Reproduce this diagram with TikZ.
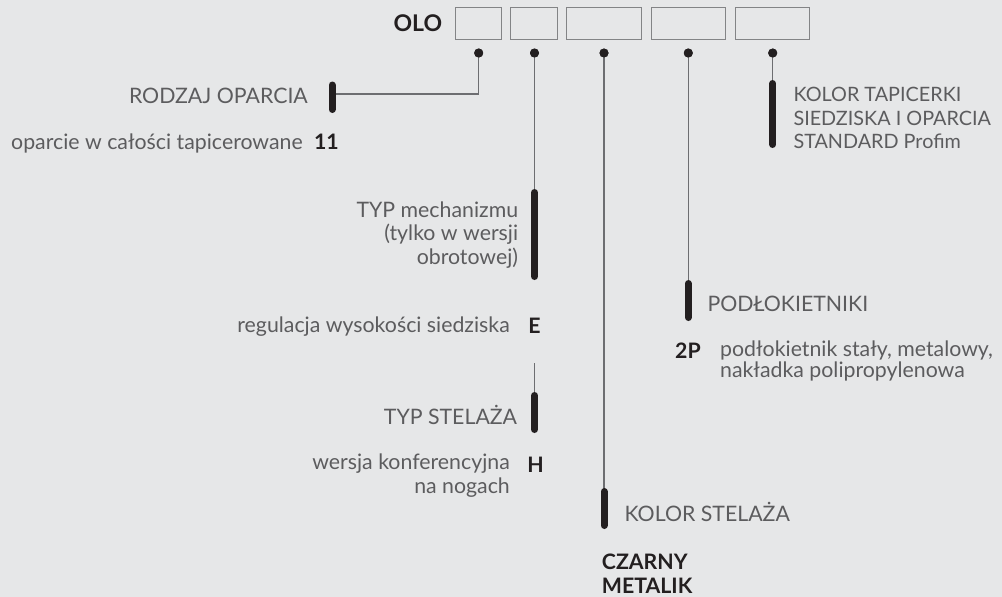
\documentclass[tikz,border=0pt]{standalone}
\usepackage{fontspec}
\setmainfont{Lato}
\usetikzlibrary{positioning}
\definecolor{bg}{HTML}{E6E7E8}
\definecolor{txt}{HTML}{5C5C5E}
\definecolor{ink}{HTML}{231F20}
\definecolor{rule}{HTML}{6D6E71}
\tikzset{
 box/.style={draw=rule!85, line width=0.9pt, minimum width=#1, minimum height=32, inner sep=0},
 pin/.style={circle, fill=ink, inner sep=0, minimum size=9},
 lead/.style={draw=rule, line width=1.1pt},
 bar/.style={draw=ink, line width=7pt, line cap=round},
 lab/.style={font=\fontsize{21.3}{23.5}\selectfont, text=txt, inner sep=0},
 code/.style={font=\fontsize{21.3}{24}\selectfont\bfseries, text=ink, inner sep=0}
}

\begin{document}
\begin{tikzpicture}[x=1pt, y=-1pt]
 \fill[bg] (0,0) rectangle (1002,597);
 \useasboundingbox (0,0) rectangle (1002,597);
 % code boxes
 \node (b1) [box=46] at (478.8,23.3) {};
 \node (b2) [box=47] at (533.5,23.3) {};
 \node (b3) [box=75] at (603.5,23.3) {};
 \node (b4) [box=74] at (688,23.3) {};
 \node (b5) [box=74] at (772,23.3) {};
 \node (olo) [left=13 of b1, inner sep=0, text=ink, font=\fontsize{23}{26}\selectfont\bfseries] {OLO};
 % pins under the boxes
 \node (p1) [pin] at (478.7,53) {};
 \node (p2) [pin] at (534.5,53) {};
 \node (p3) [pin] at (604,53) {};
 \node (p4) [pin] at (688.3,53) {};
 \node (p5) [pin] at (772.7,53) {};
 % bar ends
 \coordinate (k1t) at (332,85);   \coordinate (k1b) at (332,109.5);
 \coordinate (k1m) at (332,94);
 \coordinate (k2t) at (534.5,192.5); \coordinate (k2b) at (534.5,276.5);
 \coordinate (k6t) at (534.5,395.5); \coordinate (k6b) at (534.5,429.5);
 \coordinate (k6s) at (534.5,363);
 \coordinate (k3t) at (604,491.5);   \coordinate (k3b) at (604,525.5);
 \coordinate (k4t) at (688.3,283.5); \coordinate (k4b) at (688.3,317.5);
 \coordinate (k5t) at (772.7,83.5);  \coordinate (k5b) at (772.7,144.5);
 % leads
 \draw[lead] (p1.center) |- (k1m);
 \draw[lead] (p2.center) -- (k2t);
 \draw[lead] (k6s) -- (k6t);
 \draw[lead] (p3.center) -- (k3t);
 \draw[lead] (p4.center) -- (k4t);
 \draw[lead] (p5.center) -- (k5t);
 \foreach \n in {1,...,5} \node[pin] at (p\n) {};
 \foreach \k in {1,...,6} \draw[bar] (k\k t) -- (k\k b);
 % labels
 \node (rodzaj) [lab, anchor=east] at (308,95.5) {RODZAJ OPARCIA};
 \node (oparcie) [lab, anchor=west] at (11,143) {oparcie w całości tapicerowane};
 \node (c11) [code, base right=11 of oparcie] {11};
 \node (kolor) [lab, anchor=west, align=left, font=\fontsize{19.8}{23.5}\selectfont] at (793.3,118) {KOLOR TAPICERKI\\SIEDZISKA I OPARCIA\\STANDARD Profim};
 \node (mech) [lab, anchor=east, align=right] at (518.3,235) {TYP mechanizmu\\(tylko w wersji\\obrotowej)};
 \node (e) [code] at (534.5,326) {E};
 \node (reg) [lab, anchor=east] at (510,326.5) {regulacja wysokości siedziska};
 \node (stelaz) [lab, anchor=east] at (517.3,415) {TYP STELAŻA};
 \node (h) [code] at (535.5,465) {H};
 \node (wersja) [lab, anchor=east, align=right] at (510,475.5) {wersja konferencyjna\\na nogach};
 \node (kstel) [lab, anchor=west] at (624.3,512) {KOLOR STELAŻA};
 \node (czarny) [code, anchor=west, align=left] at (601.7,573.7) {CZARNY\\METALIK};
 \node (podl) [lab, anchor=west] at (707.3,304.3) {PODŁOKIETNIKI};
 \node (c2p) [code, anchor=west] at (675,350.7) {2P};
 \node (podlt) [lab, anchor=west, align=left, font=\fontsize{21.3}{21}\selectfont] at (720,361.2) {podłokietnik stały, metalowy,\\nakładka polipropylenowa};
\end{tikzpicture}
\end{document}
